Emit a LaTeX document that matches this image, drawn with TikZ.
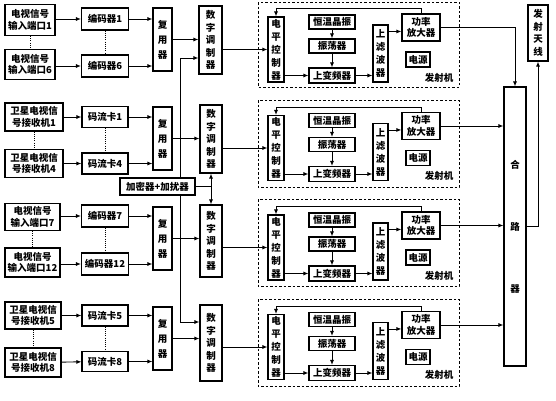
\documentclass[tikz,border=0pt]{standalone}
\usepackage{fontspec}
\setmainfont{Noto Sans CJK SC}
\usetikzlibrary{arrows.meta}

\begin{document}
\begin{tikzpicture}[x=1pt, y=-1pt, line width=0.9pt, >={Latex[length=5pt,width=4pt]},
    box/.style={draw, fill=white, line width=1.1pt, inner sep=0pt, align=center, font=\fontsize{9.5}{11.5}\selectfont\bfseries},
    vtext/.style={font=\fontsize{9.5}{#1}\selectfont\bfseries},
    txframe/.style={draw, line width=1pt, dash pattern=on 2.5pt off 2pt},
    dotlink/.style={line width=1pt, dash pattern=on 1pt off 1.2pt}]
    \useasboundingbox (0,0) rectangle (556,400);

    % backup line behind the scrambler box
    \coordinate (busA) at (180,58);
    \coordinate (busB) at (180,322);

    % group 1: TV inputs 1..6
    \node[box, minimum width=50pt, minimum height=31pt] (in1) at (30,20) {电视信号\\输入端口1};
    \node[box, minimum width=50pt, minimum height=30pt] (in6) at (30,64.5) {电视信号\\输入端口6};
    \node[box, minimum width=47pt, minimum height=22pt] (enc1) at (105,19) {编码器1};
    \node[box, minimum width=47pt, minimum height=22pt] (enc6) at (105,66) {编码器6};
    \node[box, vtext=15, minimum width=19pt, minimum height=63pt] (mux1) at (162.5,39.5) {复\\用\\器};
    \node[box, vtext=12.5, minimum width=23pt, minimum height=68pt] (mod1) at (210.5,40) {数\\字\\调\\制\\器};
    \draw[dotlink] (in1) -- (in6);
    \draw[dotlink] (enc1) -- (enc6);
    \draw[->] (in1.east |- enc1) -- (enc1);
    \draw[->] (in6.east |- enc6) -- (enc6);
    \draw[->] (enc1) -- (enc1 -| mux1.west);
    \draw[->] (enc6) -- (enc6 -| mux1.west);
    \draw[->] (mux1) -- (mux1 -| mod1.west);

    % group 2: satellite receivers 1..4
    \node[box, minimum width=58pt, minimum height=28pt] (sat1) at (34,117) {卫星电视信\\号接收机1};
    \node[box, minimum width=58pt, minimum height=28pt] (sat4) at (34,163.5) {卫星电视信\\号接收机4};
    \node[box, minimum width=46pt, minimum height=21pt] (card1) at (105,117) {码流卡1};
    \node[box, minimum width=46pt, minimum height=21pt] (card4) at (105,163.5) {码流卡4};
    \node[box, vtext=15, minimum width=19pt, minimum height=63pt] (mux2) at (162.5,138.5) {复\\用\\器};
    \node[box, vtext=12.5, minimum width=22pt, minimum height=68pt] (mod2) at (211,139) {数\\字\\调\\制\\器};
    \draw[dotlink] (sat1) -- (sat4);
    \draw[dotlink] (card1) -- (card4);
    \draw[->] (sat1) -- (card1);
    \draw[->] (sat4) -- (card4);
    \draw[->] (card1) -- (card1 -| mux2.west);
    \draw[->] (card4) -- (card4 -| mux2.west);
    \draw[->] (mux2) -- (mux2 -| mod2.west);

    % group 3: TV inputs 7..12
    \node[box, minimum width=55pt, minimum height=27pt] (in7) at (32.5,217) {电视信号\\输入端口7};
    \node[box, minimum width=55pt, minimum height=29pt] (in12) at (32.5,262.5) {电视信号\\输入端口12};
    \node[box, minimum width=47pt, minimum height=22pt] (enc7) at (105,216) {编码器7};
    \node[box, minimum width=47pt, minimum height=22pt] (enc12) at (105,264) {编码器12};
    \node[box, vtext=15, minimum width=19pt, minimum height=63pt] (mux3) at (162.5,238.5) {复\\用\\器};
    \node[box, vtext=12.5, minimum width=22pt, minimum height=72pt] (mod3) at (211,241) {数\\字\\调\\制\\器};
    \draw[dotlink] (in7) -- (in12);
    \draw[dotlink] (enc7) -- (enc12);
    \draw[->] (in7.east |- enc7) -- (enc7);
    \draw[->] (in12.east |- enc12) -- (enc12);
    \draw[->] (enc7) -- (enc7 -| mux3.west);
    \draw[->] (enc12) -- (enc12 -| mux3.west);
    \draw[->] (mux3) -- (mux3 -| mod3.west);

    % group 4: satellite receivers 5..8
    \node[box, minimum width=56pt, minimum height=27pt] (sat5) at (33,315.5) {卫星电视信\\号接收机5};
    \node[box, minimum width=56pt, minimum height=29pt] (sat8) at (33,362.5) {卫星电视信\\号接收机8};
    \node[box, minimum width=46pt, minimum height=21pt] (card5) at (105,315.5) {码流卡5};
    \node[box, minimum width=46pt, minimum height=20pt] (card8) at (105,361.5) {码流卡8};
    \node[box, vtext=15, minimum width=19pt, minimum height=63pt] (mux4) at (162.5,338.5) {复\\用\\器};
    \node[box, vtext=12.5, minimum width=22pt, minimum height=76pt] (mod4) at (211,343) {数\\字\\调\\制\\器};
    \draw[dotlink] (sat5) -- (sat8);
    \draw[dotlink] (card5) -- (card8);
    \draw[->] (sat5) -- (card5);
    \draw[->] (sat8) -- (card8);
    \draw[->] (card5) -- (card5 -| mux4.west);
    \draw[->] (card8) -- (card8 -| mux4.west);
    \draw[->] (mux4) -- (mux4 -| mod4.west);

    % backup line and scrambler
    \draw[<->] (busA -| mod1.west) -- (busA) -- (busB) -- (busB -| mod4.west);
    \node[box, minimum width=75pt, minimum height=17pt] (crypt) at (157.5,186.5) {加密器+加扰器};
    \draw[->] (crypt.east) -| (mod2.south);
    \draw[->] (crypt.east) -| (mod3.north);

    % transmitter 1
    \draw[txframe] (258,2) rectangle (459,87);
    \node[box, vtext=13, minimum width=16pt, minimum height=65pt] (lvl1) at (276,49.5) {电\\平\\控\\制\\器};
    \node[box, minimum width=46pt, minimum height=14pt] (xo1) at (332,22) {恒温晶振};
    \node[box, minimum width=46pt, minimum height=14pt] (osc1) at (332,46) {振荡器};
    \node[box, minimum width=46pt, minimum height=15pt] (upc1) at (332,75.5) {上变频器};
    \node[box, vtext=13, minimum width=15pt, minimum height=57pt] (filt1) at (380.5,53.5) {上\\滤\\波\\器};
    \node[box, minimum width=38pt, minimum height=27pt] (amp1) at (421,27.5) {功率\\放大器};
    \node[box, minimum width=24pt, minimum height=15pt] (pwr1) at (418,59.5) {电源};
    \node[vtext=11] (tx1) at (439,77.5) {发射机};
    \draw[->] (mod1.east |- lvl1) -- (lvl1);
    \draw[->] (xo1) -- (osc1);
    \draw[->] (osc1) -- (upc1);
    \draw[->] (lvl1.east |- upc1) -- (upc1);
    \draw[->] (upc1) -- (upc1 -| filt1.west);
    \draw[->] ([yshift=-7pt]filt1.north east) -- ([yshift=-7pt]filt1.north east -| amp1.west);
    \draw[->] (amp1.north) -- ++(0,-5) -| (lvl1.north);

    % transmitter 2
    \draw[txframe] (258,100) rectangle (459,187);
    \node[box, vtext=13, minimum width=16pt, minimum height=65pt] (lvl2) at (276,148) {电\\平\\控\\制\\器};
    \node[box, minimum width=46pt, minimum height=14pt] (xo2) at (332,120.5) {恒温晶振};
    \node[box, minimum width=46pt, minimum height=14pt] (osc2) at (332,144.5) {振荡器};
    \node[box, minimum width=46pt, minimum height=15pt] (upc2) at (332,174) {上变频器};
    \node[box, vtext=13, minimum width=15pt, minimum height=57pt] (filt2) at (380.5,152) {上\\滤\\波\\器};
    \node[box, minimum width=38pt, minimum height=27pt] (amp2) at (421,126) {功率\\放大器};
    \node[box, minimum width=24pt, minimum height=15pt] (pwr2) at (418,158) {电源};
    \node[vtext=11] (tx2) at (439,176) {发射机};
    \draw[->] (mod2.east |- lvl2) -- (lvl2);
    \draw[->] (xo2) -- (osc2);
    \draw[->] (osc2) -- (upc2);
    \draw[->] (lvl2.east |- upc2) -- (upc2);
    \draw[->] (upc2) -- (upc2 -| filt2.west);
    \draw[->] ([yshift=-7pt]filt2.north east) -- ([yshift=-7pt]filt2.north east -| amp2.west);
    \draw[->] (amp2.north) -- ++(0,-5) -| (lvl2.north);

    % transmitter 3
    \draw[txframe] (258,199) rectangle (459,286);
    \node[box, vtext=13, minimum width=16pt, minimum height=65pt] (lvl3) at (276,247.5) {电\\平\\控\\制\\器};
    \node[box, minimum width=46pt, minimum height=14pt] (xo3) at (332,220) {恒温晶振};
    \node[box, minimum width=46pt, minimum height=14pt] (osc3) at (332,244) {振荡器};
    \node[box, minimum width=46pt, minimum height=15pt] (upc3) at (332,273.5) {上变频器};
    \node[box, vtext=13, minimum width=15pt, minimum height=57pt] (filt3) at (380.5,251.5) {上\\滤\\波\\器};
    \node[box, minimum width=38pt, minimum height=27pt] (amp3) at (421,225.5) {功率\\放大器};
    \node[box, minimum width=24pt, minimum height=15pt] (pwr3) at (418,257.5) {电源};
    \node[vtext=11] (tx3) at (439,275.5) {发射机};
    \draw[->] (mod3.east |- lvl3) -- (lvl3);
    \draw[->] (xo3) -- (osc3);
    \draw[->] (osc3) -- (upc3);
    \draw[->] (lvl3.east |- upc3) -- (upc3);
    \draw[->] (upc3) -- (upc3 -| filt3.west);
    \draw[->] ([yshift=-7pt]filt3.north east) -- ([yshift=-7pt]filt3.north east -| amp3.west);
    \draw[->] (amp3.north) -- ++(0,-5) -| (lvl3.north);

    % transmitter 4
    \draw[txframe] (258,299) rectangle (459,386);
    \node[box, vtext=13, minimum width=16pt, minimum height=65pt] (lvl4) at (276,347) {电\\平\\控\\制\\器};
    \node[box, minimum width=46pt, minimum height=14pt] (xo4) at (332,319.5) {恒温晶振};
    \node[box, minimum width=46pt, minimum height=14pt] (osc4) at (332,343.5) {振荡器};
    \node[box, minimum width=46pt, minimum height=15pt] (upc4) at (332,373) {上变频器};
    \node[box, vtext=13, minimum width=15pt, minimum height=57pt] (filt4) at (380.5,351) {上\\滤\\波\\器};
    \node[box, minimum width=38pt, minimum height=27pt] (amp4) at (421,325) {功率\\放大器};
    \node[box, minimum width=24pt, minimum height=15pt] (pwr4) at (418,357) {电源};
    \node[vtext=11] (tx4) at (439,375) {发射机};
    \draw[->] (mod4.east |- lvl4) -- (lvl4);
    \draw[->] (xo4) -- (osc4);
    \draw[->] (osc4) -- (upc4);
    \draw[->] (lvl4.east |- upc4) -- (upc4);
    \draw[->] (upc4) -- (upc4 -| filt4.west);
    \draw[->] ([yshift=-7pt]filt4.north east) -- ([yshift=-7pt]filt4.north east -| amp4.west);
    \draw[->] (amp4.north) -- ++(0,-5) -| (lvl4.north);

    % combiner and antenna
    \node[box, vtext=12, minimum width=22pt, minimum height=279pt] (comb) at (515,226.5) {合\\[50pt]路\\[50pt]器};
    \node[box, vtext=12.5, minimum width=20pt, minimum height=56pt] (ant) at (538,33) {发\\射\\天\\线};
    \draw[->] (amp1.east) -| (comb.north);
    \draw[->] (amp2.east) -- (amp2 -| comb.west);
    \draw[->] (amp3.east) -- (amp3 -| comb.west);
    \draw[->] (amp4.east) -- (amp4 -| comb.west);
    \draw[->] (comb.east) -| (ant.south);
\end{tikzpicture}
\end{document}
